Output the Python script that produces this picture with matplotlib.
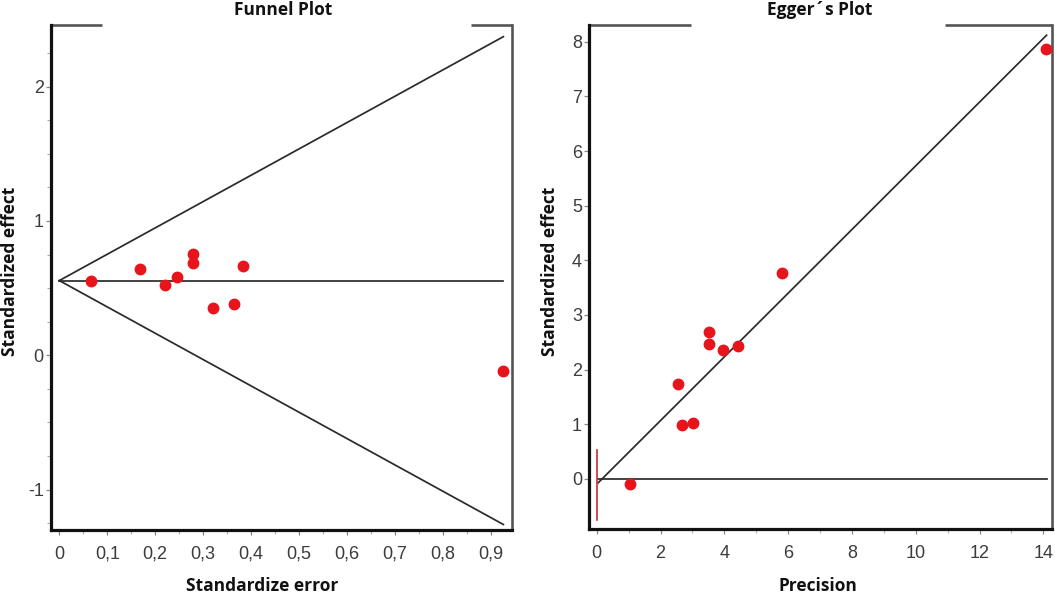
import matplotlib
matplotlib.use("Agg")
import matplotlib.pyplot as plt
from matplotlib import font_manager as fm
from matplotlib.ticker import MultipleLocator

# ---------------- data ----------------
# Funnel plot
se = [0.0667, 0.1674, 0.2197, 0.2456, 0.2794, 0.2794, 0.3837, 0.320, 0.3647, 0.925]
effect = [0.556, 0.639, 0.525, 0.581, 0.752, 0.689, 0.661, 0.350, 0.379, -0.115]
pooled_effect = 0.556
se_max = 0.926
z_crit = 1.96
funnel_xticks = [0, 0.1, 0.2, 0.3, 0.4, 0.5, 0.6, 0.7, 0.8, 0.9]
funnel_xticklabels = ["0", "0,1", "0,2", "0,3", "0,4", "0,5", "0,6", "0,7", "0,8", "0,9"]
funnel_yticks = [-1, 0, 1, 2]

# Egger plot
precision = [5.81, 14.09, 3.51, 3.51, 3.97, 4.44, 2.55, 2.68, 3.03, 1.04]
std_effect = [3.77, 7.87, 2.69, 2.46, 2.35, 2.43, 1.73, 0.99, 1.025, -0.09]
egger_intercept = -0.10
egger_slope = 0.583
egger_line_range = [0.05, 14.1]
intercept_ci = [-0.754, 0.527]
egger_xticks = [0, 2, 4, 6, 8, 10, 12, 14]
egger_yticks = [0, 1, 2, 3, 4, 5, 6, 7, 8]

# ---------------- style ----------------
W, H = 1055, 598
fig = plt.figure(figsize=(W / 100, H / 100), dpi=100)
fig.patch.set_facecolor("white")

names = {f.name for f in fm.fontManager.ttflist}
if "Liberation Sans Narrow" in names:
    tick_family, tick_size = "Liberation Sans Narrow", 14
else:
    tick_family, tick_size = "Liberation Sans", 13
bold_family = ["Open Sans", "DejaVu Sans"]
tick_color = "#3c3c3c"
line_color = "#2a2a2a"
point_color = "#e8141b"


def px_ax(x0, x1, y0, y1):
    return [x0 / W, 1 - y1 / H, (x1 - x0) / W, (y1 - y0) / H]


def style_axes(ax, gap):
    ax.spines["top"].set_visible(False)
    for s in ("left", "bottom"):
        ax.spines[s].set_linewidth(2.3)
        ax.spines[s].set_color("#111111")
    ax.spines["right"].set_linewidth(1.9)
    ax.spines["right"].set_color("#555555")
    # broken top frame
    ax.plot([0, gap[0]], [1, 1], transform=ax.transAxes, color="#555555",
            lw=1.9, clip_on=False, solid_capstyle="butt")
    ax.plot([gap[1], 1], [1, 1], transform=ax.transAxes, color="#555555",
            lw=1.9, clip_on=False, solid_capstyle="butt")
    ax.tick_params(axis="both", which="major", direction="out", length=3.5,
                   width=0.9, color="#888888", labelcolor=tick_color,
                   labelsize=tick_size)
    ax.tick_params(axis="x", which="major", pad=8)
    ax.tick_params(axis="y", which="major", pad=1.5)
    ax.tick_params(axis="both", which="minor", direction="out", length=3,
                   width=0.8, color="#aaaaaa")
    for lab in ax.get_xticklabels() + ax.get_yticklabels():
        lab.set_family(tick_family)


# ---------------- Funnel plot ----------------
ax1 = fig.add_axes(px_ax(50.7, 512, 24.7, 530))
ax1.set_xlim(-0.018, 0.944)
ax1.set_ylim(-1.30, 2.46)
ax1.plot([0, se_max], [pooled_effect, pooled_effect + z_crit * se_max],
         color=line_color, lw=1.25)
ax1.plot([0, se_max], [pooled_effect, pooled_effect - z_crit * se_max],
         color=line_color, lw=1.25)
ax1.plot([0, se_max], [pooled_effect, pooled_effect], color=line_color, lw=1.25)
ax1.plot(se, effect, "o", color=point_color, markersize=7.5, zorder=5)
ax1.set_xticks(funnel_xticks)
ax1.set_xticklabels(funnel_xticklabels)
ax1.set_yticks(funnel_yticks)
ax1.set_yticklabels([str(v) for v in funnel_yticks])
ax1.xaxis.set_minor_locator(MultipleLocator(0.05))
ax1.yaxis.set_minor_locator(MultipleLocator(0.25))
style_axes(ax1, (0.1106, 0.9105))

# ---------------- Egger plot ----------------
ax2 = fig.add_axes(px_ax(589, 1052, 25, 529.3))
ax2.set_xlim(-0.241, 14.27)
ax2.set_ylim(-0.924, 8.307)
ax2.plot(egger_line_range,
         [egger_intercept + egger_slope * egger_line_range[0],
          egger_intercept + egger_slope * egger_line_range[1]],
         color=line_color, lw=1.25)
ax2.plot(egger_line_range, [0, 0], color=line_color, lw=1.25)
ax2.plot([0, 0], intercept_ci, color="#c8283a", lw=1.2)
ax2.plot(precision, std_effect, "o", color=point_color, markersize=7.5, zorder=5)
ax2.set_xticks(egger_xticks)
ax2.set_xticklabels([str(v) for v in egger_xticks])
ax2.set_yticks(egger_yticks)
ax2.set_yticklabels([str(v) for v in egger_yticks])
ax2.xaxis.set_minor_locator(MultipleLocator(1))
style_axes(ax2, (0.2197, 0.769))

# ---------------- texts ----------------
tkw = dict(family=bold_family, fontweight="bold", fontsize=12.5, color="#111111",
           ha="center", va="center")
fig.text(283 / W, 1 - 10 / H, "Funnel Plot", **tkw)
fig.text(820 / W, 1 - 10 / H, "Egger\u00b4s Plot", **tkw)
fig.text(262 / W, 1 - 586 / H, "Standardize error", **tkw)
fig.text(818 / W, 1 - 586 / H, "Precision", **tkw)
fig.text(10 / W, 1 - 271 / H, "Standardized effect", rotation=90, **tkw)
fig.text(550 / W, 1 - 271 / H, "Standardized effect", rotation=90, **tkw)

fig.savefig("out.png", dpi=100, facecolor="white")
